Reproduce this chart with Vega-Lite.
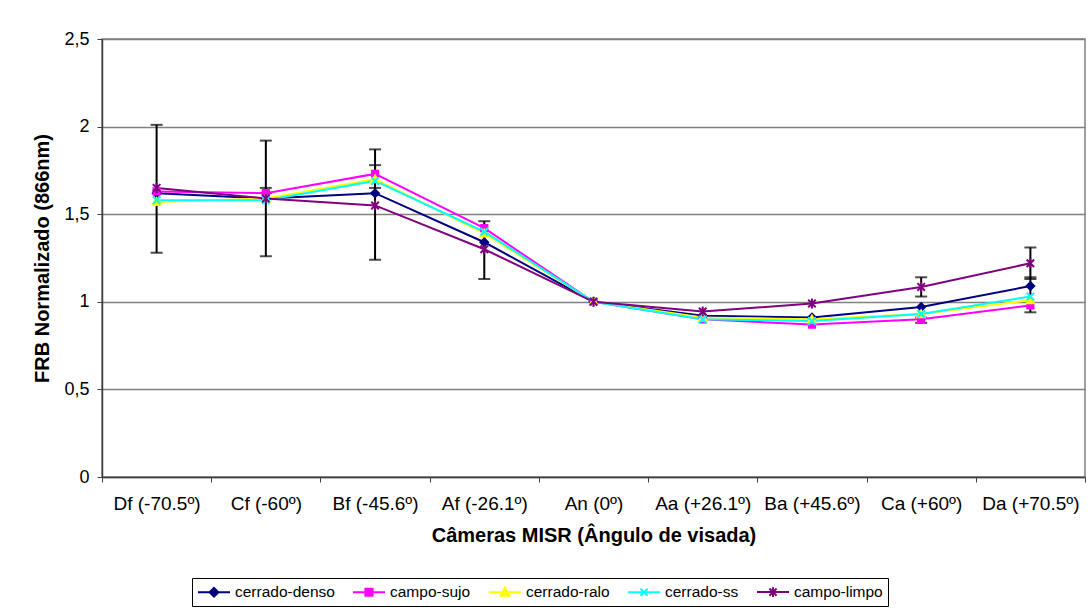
{
  "$schema": "https://vega.github.io/schema/vega-lite/v6.json",
  "autosize": "none",
  "width": 983,
  "height": 438,
  "padding": {"left": 102, "top": 39, "right": 7, "bottom": 135},
  "background": "white",
  "config": {
    "font": "Liberation Sans",
    "view": {"stroke": "#808080", "strokeWidth": 1.5},
    "axis": {"labelFont": "Liberation Sans", "titleFont": "Liberation Sans", "labelColor": "#000", "titleColor": "#000"}
  },
  "datasets": {
    "serie": [
      {"camera": "Df (-70.5º)", "serie": "cerrado-denso", "valor": 1.62},
      {"camera": "Cf (-60º)", "serie": "cerrado-denso", "valor": 1.59},
      {"camera": "Bf (-45.6º)", "serie": "cerrado-denso", "valor": 1.62},
      {"camera": "Af (-26.1º)", "serie": "cerrado-denso", "valor": 1.34},
      {"camera": "An (0º)", "serie": "cerrado-denso", "valor": 1.0},
      {"camera": "Aa (+26.1º)", "serie": "cerrado-denso", "valor": 0.92},
      {"camera": "Ba (+45.6º)", "serie": "cerrado-denso", "valor": 0.91},
      {"camera": "Ca (+60º)", "serie": "cerrado-denso", "valor": 0.97},
      {"camera": "Da (+70.5º)", "serie": "cerrado-denso", "valor": 1.09},
      {"camera": "Df (-70.5º)", "serie": "campo-sujo", "valor": 1.63},
      {"camera": "Cf (-60º)", "serie": "campo-sujo", "valor": 1.62},
      {"camera": "Bf (-45.6º)", "serie": "campo-sujo", "valor": 1.73},
      {"camera": "Af (-26.1º)", "serie": "campo-sujo", "valor": 1.42},
      {"camera": "An (0º)", "serie": "campo-sujo", "valor": 1.0},
      {"camera": "Aa (+26.1º)", "serie": "campo-sujo", "valor": 0.9},
      {"camera": "Ba (+45.6º)", "serie": "campo-sujo", "valor": 0.87},
      {"camera": "Ca (+60º)", "serie": "campo-sujo", "valor": 0.9},
      {"camera": "Da (+70.5º)", "serie": "campo-sujo", "valor": 0.98},
      {"camera": "Df (-70.5º)", "serie": "cerrado-ralo", "valor": 1.57},
      {"camera": "Cf (-60º)", "serie": "cerrado-ralo", "valor": 1.59},
      {"camera": "Bf (-45.6º)", "serie": "cerrado-ralo", "valor": 1.7},
      {"camera": "Af (-26.1º)", "serie": "cerrado-ralo", "valor": 1.39},
      {"camera": "An (0º)", "serie": "cerrado-ralo", "valor": 1.0},
      {"camera": "Aa (+26.1º)", "serie": "cerrado-ralo", "valor": 0.91},
      {"camera": "Ba (+45.6º)", "serie": "cerrado-ralo", "valor": 0.9},
      {"camera": "Ca (+60º)", "serie": "cerrado-ralo", "valor": 0.93},
      {"camera": "Da (+70.5º)", "serie": "cerrado-ralo", "valor": 1.01},
      {"camera": "Df (-70.5º)", "serie": "cerrado-ss", "valor": 1.58},
      {"camera": "Cf (-60º)", "serie": "cerrado-ss", "valor": 1.58},
      {"camera": "Bf (-45.6º)", "serie": "cerrado-ss", "valor": 1.69},
      {"camera": "Af (-26.1º)", "serie": "cerrado-ss", "valor": 1.4},
      {"camera": "An (0º)", "serie": "cerrado-ss", "valor": 1.0},
      {"camera": "Aa (+26.1º)", "serie": "cerrado-ss", "valor": 0.9},
      {"camera": "Ba (+45.6º)", "serie": "cerrado-ss", "valor": 0.89},
      {"camera": "Ca (+60º)", "serie": "cerrado-ss", "valor": 0.93},
      {"camera": "Da (+70.5º)", "serie": "cerrado-ss", "valor": 1.03},
      {"camera": "Df (-70.5º)", "serie": "campo-limpo", "valor": 1.65},
      {"camera": "Cf (-60º)", "serie": "campo-limpo", "valor": 1.59},
      {"camera": "Bf (-45.6º)", "serie": "campo-limpo", "valor": 1.55},
      {"camera": "Af (-26.1º)", "serie": "campo-limpo", "valor": 1.3},
      {"camera": "An (0º)", "serie": "campo-limpo", "valor": 1.0},
      {"camera": "Aa (+26.1º)", "serie": "campo-limpo", "valor": 0.945},
      {"camera": "Ba (+45.6º)", "serie": "campo-limpo", "valor": 0.99},
      {"camera": "Ca (+60º)", "serie": "campo-limpo", "valor": 1.085},
      {"camera": "Da (+70.5º)", "serie": "campo-limpo", "valor": 1.22}
    ],
    "erros": [
      {"camera": "Df (-70.5º)", "lo": 1.28, "hi": 2.01},
      {"camera": "Cf (-60º)", "lo": 1.26, "hi": 1.92},
      {"camera": "Cf (-60º)", "lo": 1.62, "hi": 1.65},
      {"camera": "Bf (-45.6º)", "lo": 1.24, "hi": 1.87},
      {"camera": "Bf (-45.6º)", "lo": 1.65, "hi": 1.78},
      {"camera": "Af (-26.1º)", "lo": 1.13, "hi": 1.46},
      {"camera": "Ca (+60º)", "lo": 1.03, "hi": 1.14},
      {"camera": "Ca (+60º)", "lo": 0.88, "hi": 0.91},
      {"camera": "Da (+70.5º)", "lo": 1.13, "hi": 1.31},
      {"camera": "Da (+70.5º)", "lo": 0.94, "hi": 1.14}
    ]
  },
  "encoding": {
    "x": {
      "field": "camera",
      "type": "nominal",
      "sort": null,
      "scale": {
        "type": "band",
        "paddingInner": 0,
        "paddingOuter": 0,
        "domain": ["Df (-70.5º)", "Cf (-60º)", "Bf (-45.6º)", "Af (-26.1º)", "An (0º)", "Aa (+26.1º)", "Ba (+45.6º)", "Ca (+60º)", "Da (+70.5º)"]
      },
      "axis": {
        "title": "Câmeras MISR (Ângulo de visada)",
        "titleFontSize": 20,
        "titleFontWeight": "bold",
        "titlePadding": 12,
        "labelAngle": 0,
        "labelFontSize": 19,
        "labelPadding": 12,
        "tickBand": "extent",
        "tickSize": 5,
        "tickColor": "#404040",
        "domainColor": "#404040",
        "domainWidth": 1.5,
        "grid": false
      }
    },
    "y": {
      "field": "valor",
      "type": "quantitative",
      "scale": {"domain": [0, 2.5], "nice": false, "zero": true},
      "axis": {
        "title": "FRB Normalizado (866nm)",
        "titleFontSize": 20,
        "titleFontWeight": "bold",
        "titlePadding": 11,
        "values": [0, 0.5, 1, 1.5, 2, 2.5],
        "format": "~g",
        "labelExpr": "replace(datum.label, '.', ',')",
        "labelFontSize": 18,
        "labelPadding": 8,
        "tickSize": 5,
        "tickColor": "#404040",
        "domainColor": "#404040",
        "domainWidth": 1.5,
        "grid": true,
        "gridColor": "#808080",
        "gridWidth": 1.5
      }
    }
  },
  "layer": [
    {
      "data": {"name": "erros"},
      "mark": {"type": "rule", "color": "#000", "strokeWidth": 2},
      "encoding": {
        "y": {"field": "lo", "type": "quantitative"},
        "y2": {"field": "hi"}
      }
    },
    {
      "data": {"name": "erros"},
      "mark": {"type": "tick", "orient": "horizontal", "color": "#000", "size": 12, "thickness": 2},
      "encoding": {"y": {"field": "lo", "type": "quantitative"}}
    },
    {
      "data": {"name": "erros"},
      "mark": {"type": "tick", "orient": "horizontal", "color": "#000", "size": 12, "thickness": 2},
      "encoding": {"y": {"field": "hi", "type": "quantitative"}}
    },
    {
      "data": {"name": "serie"},
      "mark": {"type": "line", "strokeWidth": 2},
      "encoding": {
        "color": {
          "field": "serie",
          "type": "nominal",
          "scale": {
            "domain": ["cerrado-denso", "campo-sujo", "cerrado-ralo", "cerrado-ss", "campo-limpo"],
            "range": ["#000080", "#FF00FF", "#FFFF00", "#00FFFF", "#800080"]
          },
          "legend": {
            "title": null,
            "orient": "none",
            "legendX": 90,
            "legendY": 539,
            "direction": "horizontal",
            "columns": 5,
            "strokeColor": "#000",
            "fillColor": "#fff",
            "padding": 5,
            "columnPadding": 14,
            "labelFont": "Liberation Sans",
            "labelFontSize": 15.5,
            "labelColor": "#000",
            "labelOffset": 20,
            "symbolSize": 256,
            "symbolStrokeWidth": 2,
            "encode": {
              "symbols": {
                "update": {
                  "shape": {"signal": "datum.value === 'cerrado-denso' ? 'M-1,0H3M1,-0.55L1.55,0L1,0.55L0.45,0Z' : datum.value === 'campo-sujo' ? 'M-1,0H3M0.55,-0.45H1.45V0.45H0.55Z' : datum.value === 'cerrado-ralo' ? 'M-1,0H3M1,-0.55L1.55,0.45H0.45Z' : datum.value === 'cerrado-ss' ? 'M-1,0H3M0.55,-0.45L1.45,0.45M1.45,-0.45L0.55,0.45' : 'M-1,0H3M0.55,-0.45L1.45,0.45M1.45,-0.45L0.55,0.45M1,-0.6V0.6'"},
                  "fill": {"scale": "color", "field": "value"},
                  "stroke": {"scale": "color", "field": "value"},
                  "strokeWidth": {"value": 2},
                  "opacity": {"value": 1}
                }
              }
            }
          }
        }
      }
    },
    {
      "data": {"name": "serie"},
      "transform": [{"filter": "datum.serie === 'cerrado-denso'"}],
      "mark": {"type": "point", "shape": "M0,-1L1,0L0,1L-1,0Z", "fill": "#000080", "stroke": "#000080", "filled": true, "size": 70, "strokeWidth": 1.5, "opacity": 1}
    },
    {
      "data": {"name": "serie"},
      "transform": [{"filter": "datum.serie === 'campo-sujo'"}],
      "mark": {"type": "point", "shape": "M-0.8,-0.8H0.8V0.8H-0.8Z", "fill": "#FF00FF", "stroke": "#FF00FF", "filled": true, "size": 70, "strokeWidth": 1.5, "opacity": 1}
    },
    {
      "data": {"name": "serie"},
      "transform": [{"filter": "datum.serie === 'cerrado-ralo'"}],
      "mark": {"type": "point", "shape": "M0,-1L1,0.8H-1Z", "fill": "#FFFF00", "stroke": "#FFFF00", "filled": true, "size": 70, "strokeWidth": 1.5, "opacity": 1}
    },
    {
      "data": {"name": "serie"},
      "transform": [{"filter": "datum.serie === 'cerrado-ss'"}],
      "mark": {"type": "point", "shape": "M-0.9,-0.9L0.9,0.9M0.9,-0.9L-0.9,0.9", "fill": "#00FFFF", "stroke": "#00FFFF", "filled": false, "size": 70, "strokeWidth": 2, "opacity": 1}
    },
    {
      "data": {"name": "serie"},
      "transform": [{"filter": "datum.serie === 'campo-limpo'"}],
      "mark": {"type": "point", "shape": "M-0.9,-0.9L0.9,0.9M0.9,-0.9L-0.9,0.9M0,-1.2V1.2", "fill": "#800080", "stroke": "#800080", "filled": false, "size": 70, "strokeWidth": 2, "opacity": 1}
    }
  ]
}
